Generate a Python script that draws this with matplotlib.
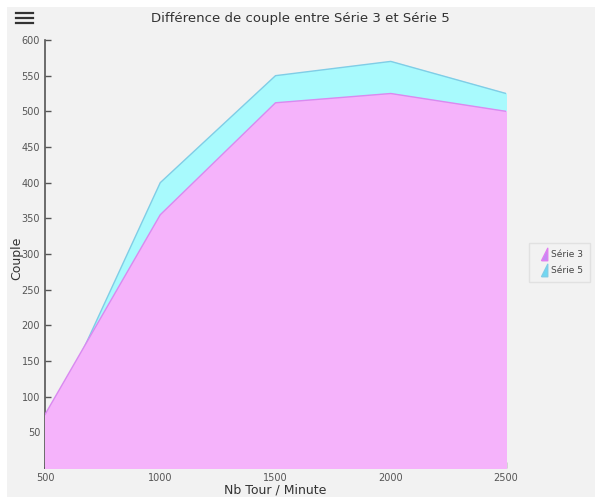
import matplotlib.pyplot as plt
from matplotlib.patches import Rectangle
from matplotlib.lines import Line2D
from matplotlib.path import Path

# Données
tours = [500, 1000, 1500, 2000, 2500]
serie3 = [75, 355, 512, 525, 500]
serie5 = [50, 400, 550, 570, 525]
y_ticks = [50, 100, 150, 200, 250, 300, 350, 400, 450, 500, 550, 600]
x_ticks = [500, 1000, 1500, 2000, 2500]

W, H = 595, 497
fig = plt.figure(figsize=(W / 100, H / 100), dpi=100, facecolor='white')

# fond gris du panneau
fig.add_artist(Rectangle((7 / W, 0), 1, 1 - 7 / H, transform=fig.transFigure,
                         facecolor='#f2f2f2', edgecolor='none', zorder=-10))

ax = fig.add_axes([45 / W, 1 - 468 / H, (506 - 45) / W, (468 - 40) / H])
ax.set_facecolor('#f2f2f2')

# Série 5 derrière, Série 3 devant
ax.fill_between(tours, serie5, color='#a8fafd', zorder=1)
ax.plot(tours, serie5, color='#80cde6', lw=1, zorder=2)
ax.fill_between(tours, serie3, color='#f5b3fb', zorder=3)
ax.plot(tours, serie3, color='#d98af0', lw=1, zorder=4)

ax.set_xlim(500, 2500)
ax.set_ylim(0, 600)
ax.set_xticks(x_ticks)
ax.set_yticks(y_ticks)
ax.tick_params(direction='in', length=4, width=1, colors='#555555',
               labelsize=7, labelcolor='#555555')
for s in ['top', 'right']:
    ax.spines[s].set_visible(False)
for s in ['left', 'bottom']:
    ax.spines[s].set_color('#555555')
    ax.spines[s].set_linewidth(1.2)

ax.set_xlabel('Nb Tour / Minute', fontsize=9, color='#333333')
ax.xaxis.set_label_coords(0.5, -0.036)
ax.set_ylabel('Couple', fontsize=9, color='#333333')
ax.yaxis.set_label_coords(-0.048, 0.49)
ax.set_title('Différence de couple entre Série 3 et Série 5', fontsize=9.5,
             color='#333333', x=0.555, pad=13)

# légende avec petits triangles
tri = Path([(0, -1), (1, -1), (1, 1), (0, -1)])
h3 = Line2D([], [], marker=tri, color='none', markerfacecolor='#c58af5',
            markeredgecolor='#e07ff0', markersize=9)
h5 = Line2D([], [], marker=tri, color='none', markerfacecolor='#6fd8f2',
            markeredgecolor='#80cde6', markersize=9)
leg = ax.legend([h3, h5], ['Série 3', 'Série 5'], loc='center left',
                bbox_to_anchor=(1.04, 0.48), fontsize=6.5, frameon=True,
                handlelength=1.0, handletextpad=0.6, borderpad=0.8,
                labelspacing=0.8)
leg.get_frame().set_facecolor('#f2f2f2')
leg.get_frame().set_edgecolor('#dddddd')
leg.get_frame().set_boxstyle('square', pad=0)
for t in leg.get_texts():
    t.set_color('#444444')

# icône menu
for yy in [13, 18, 23]:
    fig.add_artist(Line2D([16 / W, 33 / W], [1 - yy / H, 1 - yy / H],
                          transform=fig.transFigure, color='#333333', lw=1.6))

fig.savefig('out.png', dpi=100, facecolor=fig.get_facecolor())
